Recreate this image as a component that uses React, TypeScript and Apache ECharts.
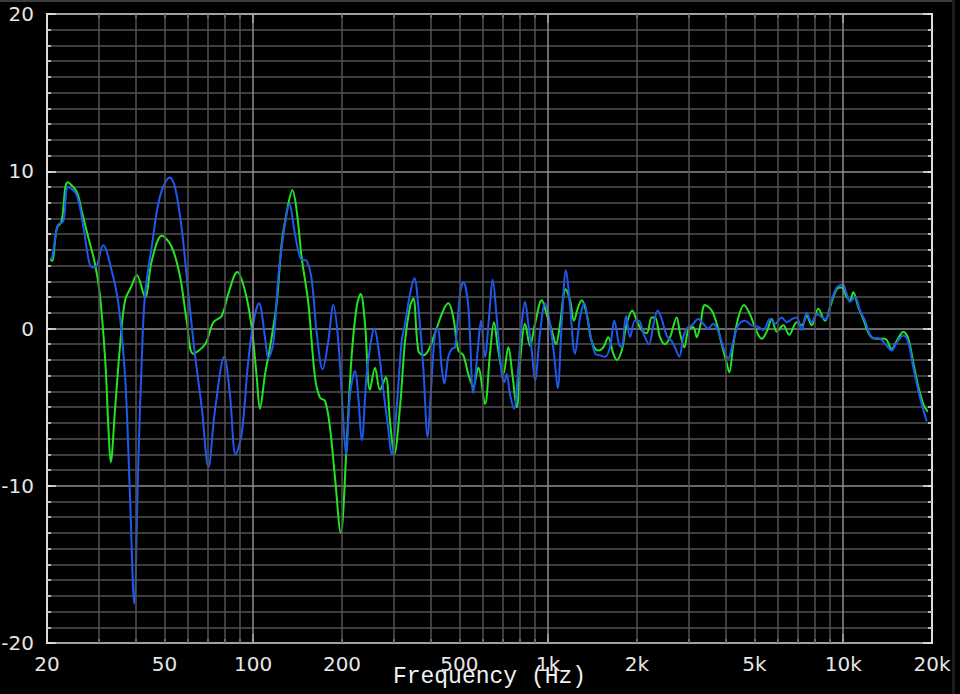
import React, { useEffect, useRef } from "react";
import * as echarts from "echarts";

// Frequency response curves: [frequency Hz, level dB]
const greenResponse: [number, number][] = [
  [20.5, 4.4], [20.8, 4.3], [21.6, 6.4], [22.4, 6.8], [23.5, 9.3], [25.2, 8.7], [26.2, 7.5], [27.6, 5.8],
  [29.1, 4.1], [30.2, 2.2], [31.5, -2.0], [32.3, -6.3], [32.9, -8.5], [34.0, -5.2], [35.4, -1.0], [36.8, 1.8],
  [38.7, 2.7], [40.3, 3.4], [43.0, 2.0], [45.3, 4.3], [49.0, 5.9], [52.9, 5.2], [56.5, 3.3], [59.5, 0.5],
  [62.6, -1.6], [68.7, -1.0], [73.3, 0.4], [78.2, 0.8], [82.3, 2.2], [88.3, 3.6], [93.8, 2.4], [98.8, 0.1],
  [102.8, -3.1], [105.4, -5.1], [109.7, -2.9], [114, -1.2], [120.1, 1.6], [124.9, 5.4], [131.5, 7.9], [135.7, 8.8],
  [140.4, 7.5], [146, 4.5], [153.8, 1.6], [162, -3.1], [168.4, -4.4], [175.2, -4.6], [182.1, -6.3], [189.4, -9.5],
  [198, -13.0], [207.5, -7.3], [215.7, -1.7], [224.3, 1.4], [231.4, 2.2], [239.3, 0.3], [248.8, -3.9], [258.8, -2.5],
  [269, -3.9], [281.3, -3.1], [290.9, -5.9], [300.8, -8.0], [314.5, -5.0], [327.1, -0.8], [340.1, 1.4], [348.9, 1.9],
  [362.8, -1.4], [377.3, -1.7], [392.2, -1.4], [413.3, -0.3], [441, 1.15], [458.6, 1.6], [476.9, 0.7], [495.8, -1.4],
  [515.5, -1.7], [536, -2.9], [557.3, -3.7], [579.4, -2.5], [610.6, -4.8], [634.8, -1.6], [655, 0.4], [677.4, -1.4],
  [704.6, -2.9], [732.6, -1.2], [755.8, -2.9], [782.2, -5.0], [809, -1.4], [834.4, 0.3], [867.8, -1.1], [902.2, 0.3],
  [950.6, 1.8], [988.4, 0.9], [1028, -0.1], [1063, -1.0], [1097, 0.3], [1146, 2.5], [1186, 1.8], [1223, 0.5],
  [1265, 1.4], [1299, 1.8], [1351, 0.9], [1404, -0.8], [1478, -1.4], [1537, -1.2], [1598, -0.55], [1662, -1.6],
  [1707, -2.0], [1775, -1.4], [1846, 0.3], [1928, 1.15], [1995, 0.5], [2075, -0.1], [2158, -0.3], [2243, 0.7],
  [2302, 0.7], [2393, -0.55], [2488, -1.0], [2588, -0.55], [2726, 0.7], [2798, -0.3], [2893, -1.2], [2985, -0.1],
  [3104, 0.1], [3188, -0.55], [3270, 0.1], [3400, 1.5], [3582, 1.15], [3726, 0.3], [3874, -1.0], [4028, -2.2],
  [4110, -2.8], [4240, -1.0], [4410, 0.7], [4610, 1.5], [4832, 0.9], [5090, -0.2], [5292, -0.65], [5506, -0.2],
  [5724, 0.6], [5952, -0.2], [6266, 0.2], [6560, -0.4], [6958, 0.4], [7234, 0.2], [7522, 0.8], [7822, 0.2],
  [8236, 1.25], [8678, 0.5], [9022, 1.35], [9506, 2.5], [9884, 2.6], [10278, 2.0], [10544, 1.8], [10820, 2.3],
  [11252, 1.35], [11698, 0.6], [12328, -0.45], [12988, -0.65], [13860, -0.65], [14604, -1.3], [15184, -0.8], [15988, -0.2],
  [16626, -0.65], [17288, -2.2], [17976, -3.7], [18688, -4.8], [19340, -5.3],
];

const blueResponse: [number, number][] = [
  [20.5, 4.4], [20.8, 4.5], [21.8, 6.6], [22.7, 6.8], [23.6, 9.0], [25.2, 8.5], [26.6, 6.4], [28.0, 4.0],
  [29.1, 3.9], [31.0, 5.3], [33.1, 3.7], [34.9, 1.6], [36.8, -3.1], [38.2, -10.5], [39.5, -17.5], [40.8, -8.4],
  [41.9, -2.0], [43.0, 2.2], [45.3, 5.2], [48.3, 8.4], [52.2, 9.6], [54.3, 9.0], [57.2, 6.4], [60.3, 2.2],
  [63.5, -1.7], [66.9, -5.0], [70.5, -8.8], [74.2, -5.2], [79.8, -1.8], [83.4, -4.2], [87.2, -8.0], [91.4, -6.7],
  [96.3, -2.0], [100.9, 0.7], [104.6, 1.6], [109.7, -0.6], [112.5, -1.9], [117, -0.9], [121.7, 3.3], [127.5, 6.4],
  [132.6, 7.9], [138.6, 6.0], [145.2, 4.4], [151.8, 4.3], [157.9, 3.1], [164.2, -0.3], [172, -2.6], [179.7, -0.8],
  [186.9, 1.5], [194.3, -0.8], [201.1, -5.2], [206.4, -8.0], [212.9, -4.2], [221.4, -2.7], [227.2, -4.4], [233.3, -7.1],
  [242.5, -2.9], [252.2, -0.55], [257.3, 0.0], [265.5, -1.2], [276.1, -3.9], [285.7, -6.1], [294.8, -8.0], [306.5, -5.0],
  [318.7, -0.8], [327.1, 0.3], [340.1, 2.2], [351.7, 3.2], [364.8, 0.9], [377.3, -2.5], [390.4, -6.9], [400.6, -3.9],
  [413.3, -0.3], [422.1, 0.0], [435.5, -2.5], [444.5, -3.5], [458.6, -1.8], [471, -1.3], [483.3, -1.2], [502.4, 2.2],
  [515.5, 2.95], [536, 1.4], [557.3, -4.1], [576.8, -1.4], [591.8, 0.5], [610.6, -1.8], [630, 0.7], [648.2, 3.1],
  [669, 0.7], [695.8, -2.9], [710, -3.4], [723.4, -2.9], [742.4, -4.2], [766, -5.1], [792, -2.5], [813.4, 0.3],
  [834.4, 1.7], [856.2, 0.3], [879.4, -1.4], [902.2, -3.3], [938.2, -0.3], [975.4, 1.6], [1014, 0.3], [1049, -1.8],
  [1077, -3.8], [1111, 0.3], [1149, 3.7], [1186, 1.4], [1233, -1.6], [1282, 0.7], [1326, 1.6], [1368, 0.3],
  [1441, -1.6], [1498, -1.7], [1558, -1.8], [1620, -1.2], [1675, 0.5], [1738, -1.0], [1775, -1.2], [1835, 0.8],
  [1894, -0.55], [1969, 0.5], [2031, 0.5], [2101, -0.3], [2196, -1.0], [2272, 0.2], [2351, 1.15], [2425, 0.6],
  [2522, -0.45], [2622, -0.8], [2690, -1.2], [2782, -1.8], [2870, -0.55], [2948, 0.0], [3065, 0.2], [3228, 0.6],
  [3356, 0.3], [3489, 0.0], [3628, 0.3], [3773, -0.2], [3922, -1.2], [4078, -1.9], [4240, -0.8], [4410, 0.2],
  [4646, 0.5], [4896, 0.2], [5154, 0.1], [5360, -0.1], [5648, 0.6], [5874, 0.3], [6188, 0.7], [6434, 0.4],
  [6700, 0.6], [6958, 0.7], [7234, -0.1], [7522, 1.0], [7822, 0.4], [8134, 0.9], [8678, 0.6], [9142, 1.8],
  [9506, 2.6], [9962, 2.8], [10278, 2.2], [10544, 1.7], [10966, 2.0], [11402, 1.15], [11856, 0.5], [12492, -0.55],
  [13328, -0.65], [14044, -1.1], [14604, -1.4], [15184, -0.9], [15988, -0.45], [16626, -0.9], [17288, -2.5], [18214, -4.4],
  [19188, -5.9],
];

// Axis structure
const minorGridFreqs = [
  30, 40, 50, 60, 70, 80, 90,
  200, 300, 400, 500, 600, 700, 800, 900,
  2000, 3000, 4000, 5000, 6000, 7000, 8000, 9000,
];
const majorGridFreqs = [100, 1000, 10000];
const xLabelFreqs = [20, 50, 100, 200, 500, 1000, 2000, 5000, 10000, 20000];
const xLabelTexts = ["20", "50", "100", "200", "500", "1k", "2k", "5k", "10k", "20k"];
const yLabelValues = [-20, -10, 0, 10, 20];

const MINOR = "#525252";
const MAJOR = "#8e8e8e";
const TICK = "#e4e4e4";
const TEXT = "#e6e6e6";

export default function App() {
  const ref = useRef<HTMLDivElement>(null);

  useEffect(() => {
    const chart = echarts.init(ref.current!, null, { renderer: "svg" });
    const allTickFreqs = [...minorGridFreqs, ...majorGridFreqs].sort((a, b) => a - b);

    const xBase: any = {
      type: "log",
      logBase: 10,
      min: 20,
      max: 20000,
      axisLine: { show: false, onZero: false },
      splitLine: { show: false },
    };
    const yBase: any = {
      type: "value",
      min: -20,
      max: 20,
      interval: 1,
      axisLine: { show: false, onZero: false },
      splitLine: { show: false },
      axisLabel: { show: false },
    };

    const option: any = {
      animation: false,
      backgroundColor: "#000000",
      grid: {
        left: 47,
        right: 28,
        top: 14,
        bottom: 51,
        outerBoundsMode: "none",
        containLabel: false,
        show: true,
        borderColor: "#dcdcdc",
        borderWidth: 2,
        backgroundColor: "#000000",
      },
      xAxis: [
        {
          ...xBase,
          position: "bottom",
          axisTick: { show: true, inside: true, length: 4, customValues: allTickFreqs, lineStyle: { color: TICK, width: 1.5 } },
          axisLabel: {
            show: true,
            customValues: xLabelFreqs,
            formatter: (v: number) => {
              const i = xLabelFreqs.findIndex((f) => Math.abs(f - v) / f < 1e-6);
              return i >= 0 ? xLabelTexts[i] : "";
            },
            color: TEXT,
            fontSize: 20,
            fontFamily: "DejaVu Sans",
            margin: 11,
          },
          name: "Frequency (Hz)",
          nameLocation: "middle",
          nameGap: 22,
          nameMoveOverlap: false,
          nameTextStyle: { color: "#f2f2f2", fontSize: 23, fontFamily: "Liberation Mono" },
        },
        {
          ...xBase,
          position: "top",
          axisTick: { show: true, inside: true, length: 4, customValues: allTickFreqs, lineStyle: { color: TICK, width: 1.5 } },
          axisLabel: { show: false },
        },
        {
          ...xBase,
          position: "bottom",
          axisTick: { show: true, inside: true, length: 9, customValues: majorGridFreqs, lineStyle: { color: TICK, width: 1.5 } },
          axisLabel: { show: false },
        },
        {
          ...xBase,
          position: "top",
          axisTick: { show: true, inside: true, length: 9, customValues: majorGridFreqs, lineStyle: { color: TICK, width: 1.5 } },
          axisLabel: { show: false },
        },
      ],
      yAxis: [
        {
          ...yBase,
          position: "left",
          axisTick: { show: true, inside: true, length: 4, lineStyle: { color: TICK, width: 1.5 } },
          axisLabel: {
            show: true,
            interval: 0,
            formatter: (v: number) => (yLabelValues.includes(v) ? String(v) : ""),
            color: TEXT,
            fontSize: 20,
            fontFamily: "DejaVu Sans",
            margin: 13,
          },
          splitLine: {
            show: true,
            showMinLine: true,
            showMaxLine: true,
            lineStyle: {
              color: [MAJOR, MINOR, MINOR, MINOR, MINOR, MINOR, MINOR, MINOR, MINOR, MINOR],
              width: 1.5,
            },
          },
        },
        {
          ...yBase,
          position: "right",
          axisTick: { show: true, inside: true, length: 4, lineStyle: { color: TICK, width: 1.5 } },
        },
        {
          ...yBase,
          interval: 10,
          position: "left",
          axisTick: { show: true, inside: true, length: 9, lineStyle: { color: TICK, width: 1.5 } },
        },
        {
          ...yBase,
          interval: 10,
          position: "right",
          axisTick: { show: true, inside: true, length: 9, lineStyle: { color: TICK, width: 1.5 } },
        },
      ],
      series: [
        {
          type: "line",
          name: "grid",
          data: [],
          xAxisIndex: 0,
          yAxisIndex: 0,
          z: 1,
          silent: true,
          markLine: {
            silent: true,
            symbol: ["none", "none"],
            label: { show: false },
            emphasis: { disabled: true },
            lineStyle: { color: MINOR, type: "solid", width: 1.5 },
            data: [
              ...minorGridFreqs.map((f) => ({ xAxis: f })),
              ...majorGridFreqs.map((f) => ({ xAxis: f, lineStyle: { color: MAJOR, type: "solid", width: 1.5 } })),
            ],
          },
        },
        {
          type: "line",
          name: "green",
          data: greenResponse,
          xAxisIndex: 0,
          yAxisIndex: 0,
          z: 3,
          showSymbol: false,
          smooth: 0.35,
          lineStyle: { color: "#22e422", width: 2 },
        },
        {
          type: "line",
          name: "blue",
          data: blueResponse,
          xAxisIndex: 0,
          yAxisIndex: 0,
          z: 4,
          showSymbol: false,
          smooth: 0.35,
          lineStyle: { color: "#1f58ee", width: 2 },
        },
      ],
      graphic: [
        { type: "rect", left: 0, top: 0, shape: { width: 953, height: 2 }, style: { fill: "#3c3c3c" }, silent: true },
        { type: "rect", left: 952, top: 0, shape: { width: 3, height: 694 }, style: { fill: "#1c1c1c" }, silent: true },
      ],
    };

    chart.setOption(option);
    return () => chart.dispose();
  }, []);

  return (
    <div
      ref={ref}
      style={{ position: "fixed", left: 0, top: 0, width: 960, height: 694, background: "#000" }}
    />
  );
}
